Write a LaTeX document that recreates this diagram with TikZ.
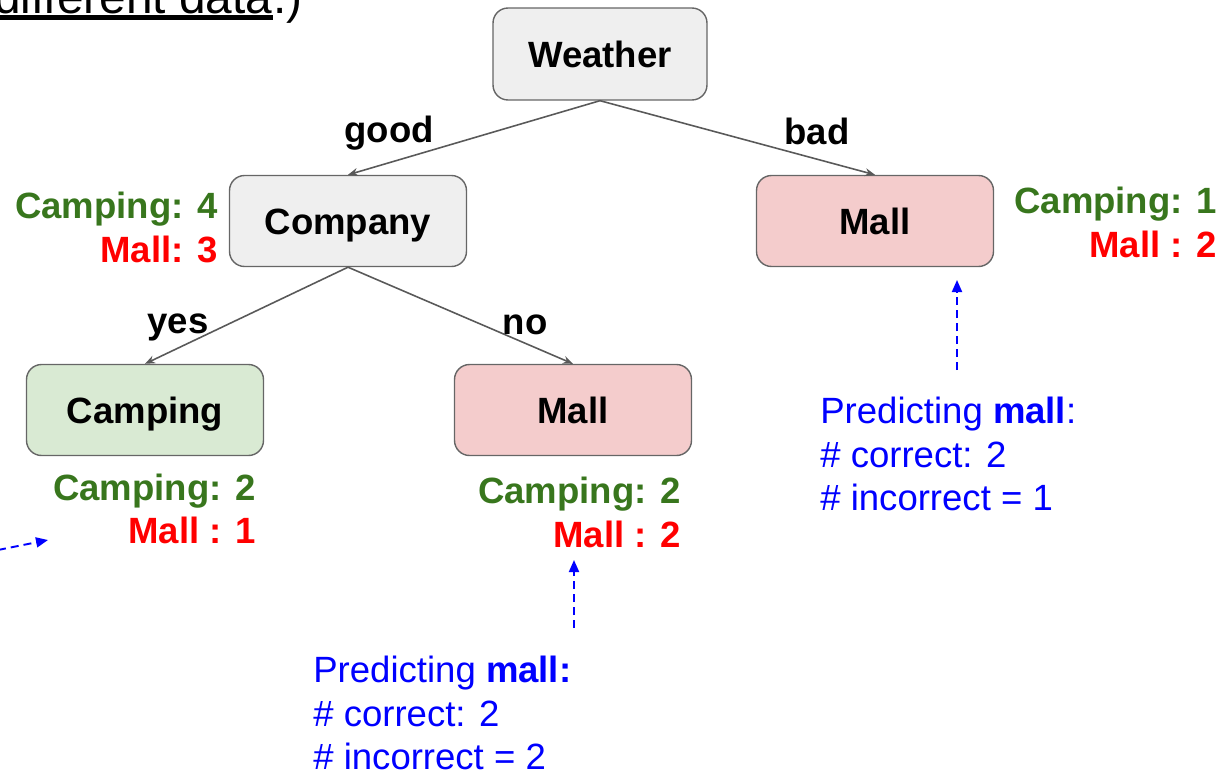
\documentclass[tikz,border=0pt]{standalone}
\usepackage{fontspec}
\setmainfont{Liberation Sans}
\usetikzlibrary{arrows.meta}
\definecolor{campgreen}{HTML}{38761D}
\definecolor{mallred}{HTML}{FF0000}
\definecolor{hintblue}{HTML}{0000FF}
\definecolor{boxgray}{HTML}{EFEFEF}
\definecolor{boxgreen}{HTML}{D9EAD3}
\definecolor{boxred}{HTML}{F4CCCC}
\definecolor{linegray}{HTML}{595959}
\newcommand{\lbl}   {\fontsize{20.8}{25}\selectfont\bfseries}
\newcommand{\hint}  {\fontsize{20.8}{24.8}\selectfont}

\begin{document}
\begin{tikzpicture}[x=0.02cm,y=-0.02cm,
  box/.style={draw=black!60,line width=0.8pt,rounded corners=0.3cm,
    minimum width=4.74cm,minimum height=1.82cm,font=\lbl,
    text height=14.8pt,text depth=0pt},
  edge/.style={draw=linegray,line width=0.9pt,-{Stealth[length=0.2cm,width=0.16cm]}},
  hintarrow/.style={draw=hintblue,line width=1.1pt,dash pattern=on 0.16cm off 0.1cm,
    -{Triangle[length=0.24cm,width=0.2cm]}}]
  \useasboundingbox (0,0) rectangle (1231,778);

  \node[anchor=base west,font=\fontsize{27.2}{30}\selectfont,inner sep=0pt] (diff) at (-6,13) {different data};
  \node[anchor=base west,font=\fontsize{27.2}{30}\selectfont,inner sep=0pt] (paren) at (diff.base east) {.)};
  \draw[line width=3pt] ([yshift=-2.5pt]diff.base west) -- ([yshift=-2.5pt]diff.base east);

  \node[box,fill=boxgray,minimum width=4.28cm,minimum height=1.84cm] (weather) at (600,54) {Weather};
  \node[box,fill=boxgray]  (company) at (348,221) {Company};
  \node[box,fill=boxred]   (mallR)   at (875,221) {Mall};
  \node[box,fill=boxgreen] (camping) at (145,410) {Camping};
  \node[box,fill=boxred]   (mallM)   at (573,410) {Mall};

  \draw[edge] (weather.south) -- (company.north);
  \draw[edge] (weather.south) -- (mallR.north);
  \draw[edge] (company.south) -- (camping.north);
  \draw[edge] (company.south) -- (mallM.north);

  \node[font=\lbl,anchor=base] (good) at (389,142) {good};
  \node[font=\lbl,anchor=base] (bad)  at (817,144) {bad};
  \node[font=\lbl,anchor=base] (yes)  at (178,333) {yes};
  \node[font=\lbl,anchor=base] (no)   at (525,334) {no};

  \node[font=\lbl,text=campgreen,anchor=base east,inner sep=0pt] (c4) at (218,218) {Camping: 4};
  \node[font=\lbl,text=mallred,anchor=base east,inner sep=0pt]   (m3) at (218,262) {Mall: 3};
  \node[font=\lbl,text=campgreen,anchor=base east,inner sep=0pt] (c1) at (1217,213) {Camping: 1};
  \node[font=\lbl,text=mallred,anchor=base east,inner sep=0pt]   (m2R) at (1217,257) {Mall : 2};
  \node[font=\lbl,text=campgreen,anchor=base east,inner sep=0pt] (c2L) at (256,500) {Camping: 2};
  \node[font=\lbl,text=mallred,anchor=base east,inner sep=0pt]   (m1) at (256,543) {Mall : 1};
  \node[font=\lbl,text=campgreen,anchor=base east,inner sep=0pt] (c2M) at (681,503) {Camping: 2};
  \node[font=\lbl,text=mallred,anchor=base east,inner sep=0pt]   (m2M) at (681,547) {Mall : 2};

  \node[font=\hint,text=hintblue,align=left,anchor=north west,inner sep=0pt] (noteR) at (820,397)
    {Predicting \textbf{mall}:\\\# correct: 2\\\# incorrect = 1};
  \node[font=\hint,text=hintblue,align=left,anchor=north west,inner sep=0pt] (noteM) at (313,656)
    {Predicting \textbf{mall:}\\\# correct: 2\\\# incorrect = 2};

  \coordinate (tailR) at (957,370);
  \coordinate (tipR)  at (957,280);
  \coordinate (tailM) at (574,628);
  \coordinate (tipM)  at (574,560);
  \coordinate (tailL) at (-2,550);
  \coordinate (tipL)  at (48,540);
  \draw[hintarrow] (tailR) -- (tipR);
  \draw[hintarrow] (tailM) -- (tipM);
  \draw[hintarrow] (tailL) -- (tipL);
\end{tikzpicture}
\end{document}
